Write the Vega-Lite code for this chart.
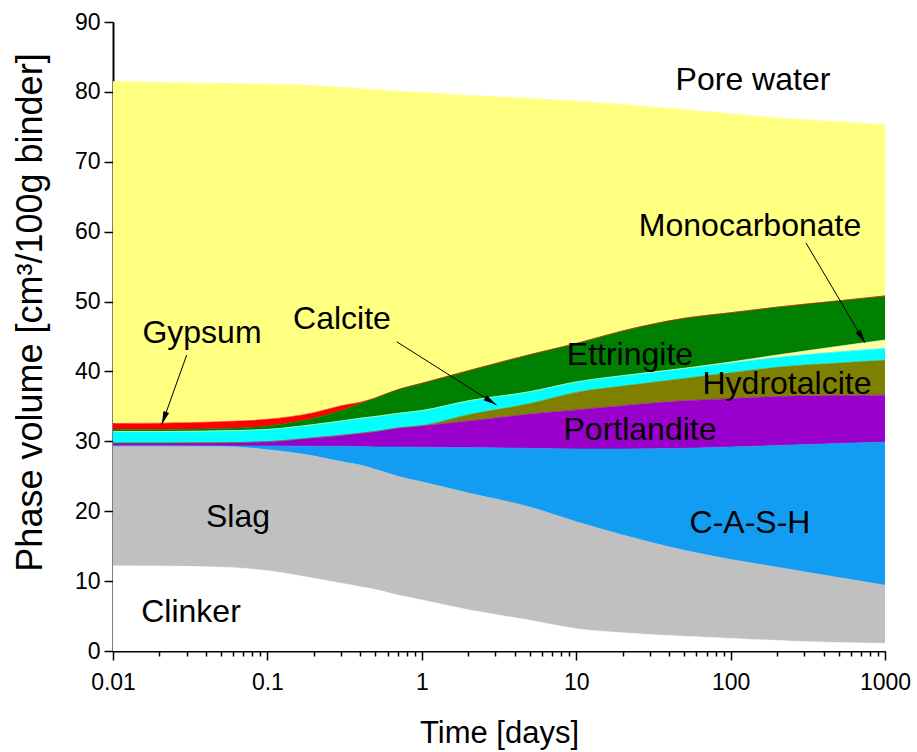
{
  "$schema": "https://vega.github.io/schema/vega-lite/v6.json",
  "width": 772,
  "height": 629,
  "autosize": {"type": "none"},
  "padding": {"left": 113, "top": 22, "right": 32, "bottom": 101},
  "background": "white",
  "config": {
    "view": {"stroke": null},
    "font": "Liberation Sans",
    "axis": {
      "grid": false,
      "domainColor": "black",
      "domainWidth": 2,
      "tickColor": "black",
      "tickWidth": 1.5,
      "labelColor": "black",
      "labelFont": "Liberation Sans",
      "labelFontSize": 23,
      "titleColor": "black",
      "titleFont": "Liberation Sans",
      "titleFontWeight": "normal",
      "labelOverlap": false,
      "labelFlush": false
    }
  },
  "datasets": {
    "phases": [
      {"t": 0.01, "Clinker": 12.2, "Slag": 17.15, "C-A-S-H": 0, "Portlandite": 0.4, "Hydrotalcite": 0, "Calcite": 1.65, "Monocarbonate": 0, "Ettringite": 0.3, "Gypsum": 0.85, "Pore water": 48.95},
      {"t": 0.02, "Clinker": 12.15, "Slag": 17.2, "C-A-S-H": 0, "Portlandite": 0.4, "Hydrotalcite": 0, "Calcite": 1.65, "Monocarbonate": 0, "Ettringite": 0.3, "Gypsum": 0.9, "Pore water": 48.75},
      {"t": 0.05, "Clinker": 12.0, "Slag": 17.3, "C-A-S-H": 0.05, "Portlandite": 0.45, "Hydrotalcite": 0, "Calcite": 1.7, "Monocarbonate": 0, "Ettringite": 0.35, "Gypsum": 0.95, "Pore water": 48.4},
      {"t": 0.1, "Clinker": 11.5, "Slag": 17.3, "C-A-S-H": 0.55, "Portlandite": 0.6, "Hydrotalcite": 0, "Calcite": 1.75, "Monocarbonate": 0, "Ettringite": 0.5, "Gypsum": 0.95, "Pore water": 47.95},
      {"t": 0.2, "Clinker": 10.4, "Slag": 17.5, "C-A-S-H": 1.4, "Portlandite": 1.2, "Hydrotalcite": 0, "Calcite": 1.9, "Monocarbonate": 0, "Ettringite": 0.9, "Gypsum": 0.8, "Pore water": 46.8},
      {"t": 0.3, "Clinker": 9.7, "Slag": 17.4, "C-A-S-H": 2.2, "Portlandite": 1.55, "Hydrotalcite": 0, "Calcite": 2.05, "Monocarbonate": 0, "Ettringite": 1.5, "Gypsum": 0.7, "Pore water": 45.55},
      {"t": 0.4, "Clinker": 9.2, "Slag": 17.4, "C-A-S-H": 2.65, "Portlandite": 1.9, "Hydrotalcite": 0, "Calcite": 2.15, "Monocarbonate": 0, "Ettringite": 2.1, "Gypsum": 0.2, "Pore water": 44.85},
      {"t": 0.5, "Clinker": 8.8, "Slag": 17.2, "C-A-S-H": 3.2, "Portlandite": 2.2, "Hydrotalcite": 0, "Calcite": 2.15, "Monocarbonate": 0, "Ettringite": 2.65, "Gypsum": 0, "Pore water": 44.1},
      {"t": 0.7, "Clinker": 8.0, "Slag": 17.0, "C-A-S-H": 4.2, "Portlandite": 2.7, "Hydrotalcite": 0, "Calcite": 2.1, "Monocarbonate": 0, "Ettringite": 3.4, "Gypsum": 0, "Pore water": 42.7},
      {"t": 1, "Clinker": 7.3, "Slag": 16.9, "C-A-S-H": 4.95, "Portlandite": 3.05, "Hydrotalcite": 0.05, "Calcite": 2.15, "Monocarbonate": 0, "Ettringite": 3.9, "Gypsum": 0, "Pore water": 41.6},
      {"t": 2, "Clinker": 5.9, "Slag": 16.7, "C-A-S-H": 6.5, "Portlandite": 3.8, "Hydrotalcite": 0.9, "Calcite": 2.0, "Monocarbonate": 0, "Ettringite": 4.3, "Gypsum": 0, "Pore water": 39.4},
      {"t": 5, "Clinker": 4.4, "Slag": 16.2, "C-A-S-H": 8.4, "Portlandite": 4.9, "Hydrotalcite": 1.5, "Calcite": 1.7, "Monocarbonate": 0, "Ettringite": 5.3, "Gypsum": 0, "Pore water": 36.65},
      {"t": 10, "Clinker": 3.2, "Slag": 15.3, "C-A-S-H": 10.4, "Portlandite": 5.6, "Hydrotalcite": 2.5, "Calcite": 1.5, "Monocarbonate": 0, "Ettringite": 5.5, "Gypsum": 0, "Pore water": 34.65},
      {"t": 20, "Clinker": 2.6, "Slag": 14.0, "C-A-S-H": 12.3, "Portlandite": 6.2, "Hydrotalcite": 2.8, "Calcite": 1.5, "Monocarbonate": 0, "Ettringite": 6.4, "Gypsum": 0, "Pore water": 32.4},
      {"t": 50, "Clinker": 2.1, "Slag": 12.3, "C-A-S-H": 14.6, "Portlandite": 6.8, "Hydrotalcite": 3.2, "Calcite": 1.4, "Monocarbonate": 0.05, "Ettringite": 7.15, "Gypsum": 0, "Pore water": 29.85},
      {"t": 100, "Clinker": 1.8, "Slag": 11.3, "C-A-S-H": 16.1, "Portlandite": 6.9, "Hydrotalcite": 3.7, "Calcite": 1.4, "Monocarbonate": 0.15, "Ettringite": 7.05, "Gypsum": 0, "Pore water": 28.45},
      {"t": 200, "Clinker": 1.5, "Slag": 10.5, "C-A-S-H": 17.4, "Portlandite": 7.0, "Hydrotalcite": 4.2, "Calcite": 1.4, "Monocarbonate": 0.35, "Ettringite": 6.85, "Gypsum": 0, "Pore water": 27.05},
      {"t": 500, "Clinker": 1.2, "Slag": 9.3, "C-A-S-H": 19.2, "Portlandite": 6.85, "Hydrotalcite": 4.65, "Calcite": 1.6, "Monocarbonate": 0.8, "Ettringite": 6.5, "Gypsum": 0, "Pore water": 25.6},
      {"t": 1000, "Clinker": 1.1, "Slag": 8.3, "C-A-S-H": 20.5, "Portlandite": 6.7, "Hydrotalcite": 5.0, "Calcite": 1.7, "Monocarbonate": 1.2, "Ettringite": 6.3, "Gypsum": 0, "Pore water": 24.5}
    ],
    "labels": [
      {"label": "Pore water", "t": 139.6, "v": 81.7},
      {"label": "Monocarbonate", "t": 133.6, "v": 60.8},
      {"label": "Gypsum", "t": 0.0377, "v": 45.5},
      {"label": "Calcite", "t": 0.304, "v": 47.5},
      {"label": "Ettringite", "t": 22.3, "v": 42.3},
      {"label": "Hydrotalcite", "t": 231.7, "v": 38.2},
      {"label": "Portlandite", "t": 25.9, "v": 31.6},
      {"label": "Slag", "t": 0.0645, "v": 19.2},
      {"label": "C-A-S-H", "t": 133.6, "v": 18.3},
      {"label": "Clinker", "t": 0.032, "v": 5.6}
    ],
    "arrows": [
      {"name": "Gypsum", "t": 0.03, "v": 42.35, "t2": 0.0207, "v2": 32.4},
      {"name": "Calcite", "t": 0.688, "v": 44.25, "t2": 3.05, "v2": 35.2},
      {"name": "Monocarbonate", "t": 307.6, "v": 58.4, "t2": 742, "v2": 44.1}
    ]
  },
  "layer": [
    {
      "data": {"name": "phases"},
      "transform": [
        {"fold": ["Clinker", "Slag", "C-A-S-H", "Portlandite", "Hydrotalcite", "Calcite", "Monocarbonate", "Ettringite", "Gypsum", "Pore water"], "as": ["phase", "vol"]},
        {"calculate": "indexof(['Clinker', 'Slag', 'C-A-S-H', 'Portlandite', 'Hydrotalcite', 'Calcite', 'Monocarbonate', 'Ettringite', 'Gypsum', 'Pore water'], datum.phase)", "as": "rank"}
      ],
      "mark": {"type": "area", "interpolate": "monotone", "opacity": 1, "line": {"color": "#333333", "strokeWidth": 0.9, "strokeOpacity": 0.7, "interpolate": "monotone"}},
      "encoding": {
        "x": {
          "field": "t", "type": "quantitative",
          "scale": {"type": "log", "domain": [0.01, 1000], "nice": false},
          "axis": {
            "title": "Time [days]",
            "titleFontSize": 31,
            "titleY": 82,
            "titleBaseline": "middle",
            "values": [0.01, 0.02, 0.03, 0.04, 0.05, 0.06, 0.07, 0.08, 0.09, 0.1, 0.2, 0.3, 0.4, 0.5, 0.6, 0.7, 0.8, 0.9, 1, 2, 3, 4, 5, 6, 7, 8, 9, 10, 20, 30, 40, 50, 60, 70, 80, 90, 100, 200, 300, 400, 500, 600, 700, 800, 900, 1000],
            "format": "~g",
            "labelExpr": "abs(log(datum.value) / LN10 - round(log(datum.value) / LN10)) < 0.001 ? datum.label : ''",
            "tickSize": {"condition": {"test": "abs(log(datum.value) / LN10 - round(log(datum.value) / LN10)) < 0.001", "value": 9}, "value": 5},
            "labelPadding": 11
          }
        },
        "y": {
          "field": "vol", "type": "quantitative", "stack": "zero",
          "scale": {"domain": [0, 90], "nice": false},
          "axis": {
            "title": "Phase volume [cm³/100g binder]",
            "titleFontSize": 36,
            "titleX": -83,
            "titleY": 290,
            "titleBaseline": "middle",
            "values": [0, 5, 10, 15, 20, 25, 30, 35, 40, 45, 50, 55, 60, 65, 70, 75, 80, 85, 90],
            "labelExpr": "datum.value % 10 == 0 ? datum.label : ''",
            "tickSize": {"condition": {"test": "datum.value % 10 == 0", "value": 9}, "value": 5},
            "labelPadding": 4
          }
        },
        "color": {
          "field": "phase", "type": "nominal", "legend": null,
          "scale": {
            "domain": ["Clinker", "Slag", "C-A-S-H", "Portlandite", "Hydrotalcite", "Calcite", "Monocarbonate", "Ettringite", "Gypsum", "Pore water"],
            "range": ["#FFFFFF", "#C0C0C0", "#129DF2", "#9A00CC", "#808000", "#00FFFF", "#FFFFA8", "#008000", "#FF0000", "#FFFF80"]
          }
        },
        "order": {"field": "rank", "type": "quantitative"}
      }
    },
    {
      "data": {"name": "arrows"},
      "mark": {"type": "rule", "color": "black", "strokeWidth": 1},
      "encoding": {
        "x": {"field": "t", "type": "quantitative"},
        "y": {"field": "v", "type": "quantitative"},
        "x2": {"field": "t2"},
        "y2": {"field": "v2"}
      }
    },
    {
      "data": {"name": "arrows"},
      "transform": [{"filter": "datum.name == 'Gypsum'"}],
      "mark": {"type": "point", "shape": "M0,0L-0.45,2L0.45,2Z", "filled": true, "color": "black", "opacity": 1, "size": 180, "angle": 199.7},
      "encoding": {
        "x": {"field": "t2", "type": "quantitative"},
        "y": {"field": "v2", "type": "quantitative"}
      }
    },
    {
      "data": {"name": "arrows"},
      "transform": [{"filter": "datum.name == 'Calcite'"}],
      "mark": {"type": "point", "shape": "M0,0L-0.45,2L0.45,2Z", "filled": true, "color": "black", "opacity": 1, "size": 180, "angle": 122.3},
      "encoding": {
        "x": {"field": "t2", "type": "quantitative"},
        "y": {"field": "v2", "type": "quantitative"}
      }
    },
    {
      "data": {"name": "arrows"},
      "transform": [{"filter": "datum.name == 'Monocarbonate'"}],
      "mark": {"type": "point", "shape": "M0,0L-0.45,2L0.45,2Z", "filled": true, "color": "black", "opacity": 1, "size": 180, "angle": 149.5},
      "encoding": {
        "x": {"field": "t2", "type": "quantitative"},
        "y": {"field": "v2", "type": "quantitative"}
      }
    },
    {
      "data": {"name": "labels"},
      "mark": {"type": "text", "font": "Liberation Sans", "fontSize": 32, "color": "black", "align": "center", "baseline": "middle"},
      "encoding": {
        "x": {"field": "t", "type": "quantitative"},
        "y": {"field": "v", "type": "quantitative"},
        "text": {"field": "label"}
      }
    }
  ]
}
